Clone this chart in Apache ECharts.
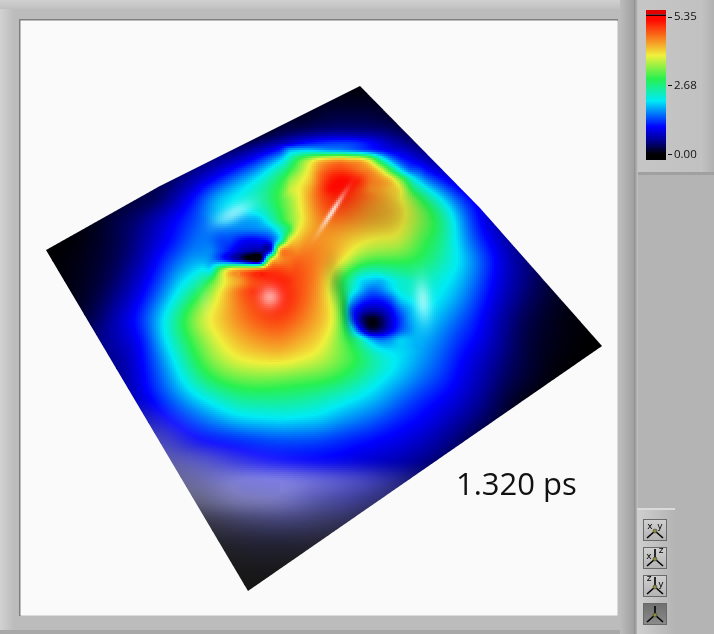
<!DOCTYPE html>
<html><head><meta charset="utf-8">
<style>html,body{margin:0;padding:0;background:#bdbdbd}#c{width:714px;height:634px}</style>
<script src="https://cdn.jsdelivr.net/npm/echarts@6/dist/echarts.min.js"></script>
</head><body><div id="c"></div>
<script>
// ---------- colour-scale ticks ----------
const scaleTicks = [0, 2.68, 5.35];
const timeLabel = '1.320 ps';
// ---------- surface height read on a 20 px lattice (columns x = 40..620, rows y = 80..600) ----------
const latticeX = [40,60,80,100,120,140,160,180,200,220,240,260,280,300,320,340,360,380,400,420,440,460,480,500,520,540,560,580,600,620];
const latticeY = [80,100,120,140,160,180,200,220,240,260,280,300,320,340,360,380,400,420,440,460,480,500,520,540,560,580,600];
const y080=[0,0,0,0,0,0,0,0,0,0,0,0,0,0,0,0,0,0,0,0,0,0,0,0,0,0,0,0,0,0];
const y100=[0,0,0,0,0,0,0,0,0,0,0,0,0,0,.1,.1,.1,.1,0,0,0,0,0,0,0,0,0,0,0,0];
const y120=[0,0,0,0,0,0,0,0,0,0,0,0,.2,.15,.25,.3,.3,.25,.15,.1,0,0,0,0,0,0,0,0,0,0];
const y140=[0,0,0,0,0,0,0,0,0,.1,.15,.25,.4,.65,.8,.85,.8,.7,.5,.3,.15,.05,0,0,0,0,0,0,0,0];
const y160=[0,0,0,0,0,0,.1,.2,.35,.55,.8,1.3,2,3,3.8,4.2,4,2.3,1.3,.8,.5,.3,.1,0,0,0,0,0,0,0];
const y180=[0,0,0,0,.1,.2,.3,.45,.8,1.2,1.75,2.2,2.9,3.5,4.7,5.2,5,4.4,3.3,1.8,1.2,.7,.4,.1,0,0,0,0,0,0];
const y200=[0,0,0,.05,.15,.25,.35,.8,1.35,2,2.2,2.5,3.1,3.9,4.8,5.1,4.7,4.3,4,3.1,2.2,1.4,.9,.5,.2,0,0,0,0,0];
const y220=[0,0,.03,.12,.3,.45,.8,1.15,1.45,1.9,1.8,1.9,2.8,3.7,4.5,4.6,4.4,4.2,4,3.4,2.8,1.8,1.05,.6,.3,.1,0,0,0,0];
const y240=[0,0,.05,.15,.3,.55,.9,1.25,1.6,1.45,1,1.1,2.8,4.3,4.4,4.2,3.95,3.8,3.75,3.1,2.7,1.9,1.25,.8,.4,.15,0,0,0,0];
const y260=[0,.03,.08,.18,.35,.65,1.15,1.55,1.8,1.3,.25,.3,4.4,4.7,4.5,4.1,3.3,3.1,3.05,2.9,2.5,2.05,1.5,.95,.55,.3,.1,0,0,0];
const y280=[0,.03,.1,.22,.45,.85,1.35,1.95,2.4,3.6,4.4,5,5.1,4.8,4.4,3,1.9,1.9,2.3,2.4,2.2,1.9,1.4,.9,.55,.3,.15,.05,0,0];
const y300=[0,.05,.12,.3,.6,1.05,1.65,2.35,3.2,3.95,4.6,5,5.2,4.8,4.3,3.3,1.5,1.1,1.85,2.2,2.05,1.7,1.25,.8,.45,.25,.1,.02,0,0];
const y320=[0,.1,.2,.4,.8,1.25,1.95,2.8,3.65,4.1,4.5,4.8,4.9,4.6,4.2,3.5,.5,.1,1.3,2,1.8,1.45,1.1,.65,.35,.18,.08,.02,0,0];
const y340=[0,.1,.3,.5,.75,1.05,1.85,2.6,3.3,3.85,4.2,4.4,4.5,4.25,4,3.3,2.5,1.6,1.95,1.85,1.6,1.25,1,.6,.3,.15,.07,.02,0,0];
const y360=[0,.1,.3,.45,.6,1,1.6,2.3,3.05,3.55,3.85,3.95,4,3.85,3.65,3.3,2.9,2.4,2.05,1.75,1.45,1.1,.8,.5,.28,.12,.04,0,0,0];
const y380=[0,.1,.3,.4,.55,.95,1.45,2,2.6,3,3.2,3.25,3.2,3.1,3.05,2.85,2.5,2.1,1.85,1.55,1.3,1,.7,.4,.22,.1,0,0,0,0];
const y400=[0,0,.2,.3,.5,.85,1.25,1.65,2,2.3,2.55,2.6,2.6,2.55,2.4,2.2,2,1.8,1.5,1.25,1.05,.85,.55,.3,.1,0,0,0,0,0];
const y420=[0,0,0,.2,.35,.55,.9,1.2,1.5,1.75,1.95,2,2.05,2,1.95,1.75,1.6,1.4,1.2,1.05,.85,.6,.4,.2,0,0,0,0,0,0];
const y440=[0,0,0,0,.2,.4,.6,.85,1.05,1.15,1.25,1.35,1.4,1.4,1.35,1.25,1.15,1.05,.95,.8,.6,.4,.2,0,0,0,0,0,0,0];
const y460=[0,0,0,0,0,.2,.4,.5,.65,.8,.9,1,1.05,1.05,1.05,1,.9,.8,.7,.55,.4,.2,0,0,0,0,0,0,0,0];
const y480=[0,0,0,0,0,0,.2,.3,.4,.55,.7,.8,.8,.8,.75,.7,.65,.55,.45,.3,.15,0,0,0,0,0,0,0,0,0];
const y500=[0,0,0,0,0,0,0,.12,.2,.3,.4,.45,.5,.5,.45,.45,.4,.3,.2,.1,0,0,0,0,0,0,0,0,0,0];
const y520=[0,0,0,0,0,0,0,0,.08,.12,.18,.22,.25,.25,.22,.2,.15,.1,.05,0,0,0,0,0,0,0,0,0,0,0];
const y540=[0,0,0,0,0,0,0,0,0,.05,.07,.1,.1,.1,.08,.05,.02,0,0,0,0,0,0,0,0,0,0,0,0,0];
const y560=[0,0,0,0,0,0,0,0,0,0,.02,.03,.03,.02,0,0,0,0,0,0,0,0,0,0,0,0,0,0,0,0];
const y580=[0,0,0,0,0,0,0,0,0,0,0,0,0,0,0,0,0,0,0,0,0,0,0,0,0,0,0,0,0,0];
const y600=y580;
const heights=[y080,y100,y120,y140,y160,y180,y200,y220,y240,y260,y280,y300,y320,y340,y360,y380,y400,y420,y440,y460,y480,y500,y520,y540,y560,y580,y600];
// ---------- finer readings (10 px) round the two wells and the upper ridge ----------
const wellAX=[200,210,220,230,240,250,260,270,280,290,300], wellAY=[210,220,230,240,250,260,270,280,290];
const wellA210=[1.55,1.8,2,2.05,2.05,2.1,2.2,2.6,2.95,3.4,3.8];
const wellA220=[1.45,1.7,1.9,1.9,1.8,1.8,1.9,2.3,2.8,3.3,3.7];
const wellA230=[1.5,1.6,1.6,1.6,1.6,1.6,1.65,1.8,2.3,3,3.9];
const wellA240=[1.6,1.55,1.4,1.35,1.15,1.05,1.1,1.3,2.2,3.8,4.3];
const wellA250=[1.75,1.65,1.4,1.15,.85,.7,.65,.85,4.1,4.5,4.5];
const wellA260=[1.85,1.7,1.4,1,.6,.1,.1,3.6,4.4,4.6,4.7];
const wellA270=[2.1,2.1,3.2,4,4.3,4.5,4.7,4.9,4.9,4.8,4.8];
const wellA280=[2.4,2.9,3.6,4.1,4.4,4.8,5,5.1,5.1,5,4.8];
const wellA290=[2.8,3.4,3.8,4.2,4.5,4.9,5,5.2,5.15,4.95,4.8];
const wellBX=[340,350,360,370,380,390,400,410,420], wellBY=[270,280,290,300,310,320,330,340,350];
const wellB270=[3.3,3,2.6,2.4,2.4,2.6,2.7,2.8,2.7];
const wellB280=[3,2.6,2.1,1.95,1.9,2.1,2.3,2.35,2.4];
const wellB290=[3.1,2.4,1.9,1.55,1.6,1.9,2.2,2.3,2.3];
const wellB300=[3.3,2,1.4,1.15,1.15,1.4,1.9,2.1,2.2];
const wellB310=[3.4,1.6,.9,.65,.7,1,1.5,1.85,2.1];
const wellB320=[3.5,1.8,.6,.08,.25,.8,1.3,1.75,2];
const wellB330=[3.4,2.4,1.2,.35,.45,.9,1.4,1.7,1.9];
const wellB340=[3.3,2.9,2.5,1.9,1.6,1.7,1.95,1.9,1.8];
const wellB350=[3.3,3.1,2.7,2.3,2,1.9,2,1.85,1.7];
const ridgeX=[280,290,300,310,320,330,340,350,360,370,380,390,400,410,420], ridgeY=[140,150,160,170,180,190,200];
const ridge140=[.4,.5,.65,.72,.8,.83,.85,.83,.8,.75,.7,.6,.5,.4,.3];
const ridge150=[1.6,1.8,1.9,1.9,1.8,1.7,1.65,1.55,1.4,1.25,1.1,.95,.85,.7,.55];
const ridge160=[2,2.5,3.1,3.6,4,4.2,4.3,4.2,4.1,3.6,2.6,1.8,1.3,1.05,.8];
const ridge170=[2.4,2.95,3.45,3.95,4.5,4.8,4.9,4.8,4.6,4.4,3.9,3,2.1,1.5,1.2];
const ridge180=[2.9,3.4,3.75,4.1,4.7,5.1,5.25,5.2,5,4.6,4.4,4.1,3.4,2.5,1.8];
const ridge190=[3.2,3.65,3.9,4.3,4.8,5.2,5.2,5.1,4.85,4.5,4.35,4.15,3.9,3.1,2.3];
const ridge200=[3.3,3.7,3.95,4.4,4.8,5,5.1,4.9,4.7,4.5,4.3,4.15,4,3.5,3];
// ---------- sheen (white mixed in) read in the lower front of the surface ----------
const sheenX=[120,160,200,240,280,320,360,400,440];
const sheenY=[380,400,420,440,460,480,500,520,540,560,580,600];
const sheen380=[0,0,0,0,0,0,0,0,0];
const sheen400=[.03,0,0,0,0,0,0,0,0];
const sheen420=[.15,.12,.03,0,0,0,0,0,0];
const sheen440=[.25,.27,.1,.02,0,0,0,0,0];
const sheen460=[.35,.36,.33,.22,.12,.05,.02,0,0];
const sheen480=[.4,.4,.42,.48,.48,.38,.27,.14,.05];
const sheen500=[.38,.39,.39,.46,.45,.33,.23,.15,.05];
const sheen520=[.25,.25,.23,.26,.27,.23,.17,.1,.05];
const sheen540=[.15,.15,.15,.15,.15,.15,.12,.08,0];
const sheen560=[.11,.11,.11,.11,.11,.11,.11,.11,.11];
const sheen580=[.09,.09,.09,.09,.09,.09,.09,.09,.09];
const sheen600=[.08,.08,.08,.08,.08,.08,.08,.08,.08];
const sheenRows=[sheen380,sheen400,sheen420,sheen440,sheen460,sheen480,sheen500,sheen520,sheen540,sheen560,sheen580,sheen600];
// glints: x, y, long radius, short radius, angle (deg), strength
const glints=[[270,297,11,11,0,.6],[332,212,22,2.6,-57,.8],[234,213,20,8,-28,.5],[423,301,20,8,85,.55],[205,300,18,6,80,.1]];
// shaded folds: x, y, long radius, short radius, angle (deg), strength
const shades=[[347,315,20,6,80,.28],[335,280,20,9,80,.2],[385,215,42,26,0,.15]];
// surface outline
const outlineX=[46,160,250,360,480,602,248];
const outlineY=[250,186,141,86,208,346,591];
// colour ramp
const rampAt=[0,.1,.2,.39,.55,.72,.98,1];
const rampRGB=[[0,0,0],[0,0,145],[0,0,255],[0,235,245],[40,240,80],[240,240,60],[255,8,0],[255,8,0]];

const maxH=scaleTicks[2];
function ramp(v){const f=Math.min(1,Math.max(0,v/maxH));let i=0;while(i<rampAt.length-2&&f>rampAt[i+1])i++;
  const t=(f-rampAt[i])/(rampAt[i+1]-rampAt[i]);return rampRGB[i].map((c,k)=>c+(rampRGB[i+1][k]-c)*t);}
function cr(a,b,c,d,t){return b+.5*t*(c-a+t*(2*a-5*b+4*c-d+t*(3*(b-c)+d-a)));}
function cub(xs,ys,rows,x,y){const sx=xs[1]-xs[0],sy=ys[1]-ys[0],nx=xs.length,ny=ys.length;
  let i=Math.max(0,Math.min(nx-2,Math.floor((x-xs[0])/sx))),j=Math.max(0,Math.min(ny-2,Math.floor((y-ys[0])/sy)));
  const a=Math.max(0,Math.min(1,(x-xs[i])/sx)),b=Math.max(0,Math.min(1,(y-ys[j])/sy));
  const col=[];for(let k=-1;k<=2;k++){const r=rows[Math.max(0,Math.min(ny-1,j+k))];
    col.push(cr(r[Math.max(0,i-1)],r[i],r[i+1],r[Math.min(nx-1,i+2)],a));}
  const v=cr(col[0],col[1],col[2],col[3],b);
  const q=[rows[j][i],rows[j][i+1],rows[j+1][i],rows[j+1][i+1]];
  const lo=Math.min(...q),hi=Math.max(...q),m=(hi-lo)*.12;
  return Math.max(lo-m,Math.min(hi+m,v));}
const patches=[[wellAX,wellAY,[wellA210,wellA220,wellA230,wellA240,wellA250,wellA260,wellA270,wellA280,wellA290]],
 [wellBX,wellBY,[wellB270,wellB280,wellB290,wellB300,wellB310,wellB320,wellB330,wellB340,wellB350]],
 [ridgeX,ridgeY,[ridge140,ridge150,ridge160,ridge170,ridge180,ridge190,ridge200]]];
const soft=9;
function smooth(x,y){return (cub(latticeX,latticeY,heights,x,y)*2
   +cub(latticeX,latticeY,heights,x-soft,y)+cub(latticeX,latticeY,heights,x+soft,y)
   +cub(latticeX,latticeY,heights,x,y-soft)+cub(latticeX,latticeY,heights,x,y+soft)
   +cub(latticeX,latticeY,heights,x-soft,y-soft)+cub(latticeX,latticeY,heights,x+soft,y-soft)
   +cub(latticeX,latticeY,heights,x-soft,y+soft)+cub(latticeX,latticeY,heights,x+soft,y+soft))/10;}
function height(x,y){const base=smooth(x,y);
  for(const p of patches){const xs=p[0],ys=p[1],x0=xs[0],x1=xs[xs.length-1],y0=ys[0],y1=ys[ys.length-1];
   if(x>=x0&&x<=x1&&y>=y0&&y<=y1){const w=Math.min(1,(x-x0)/10,(x1-x)/10,(y-y0)/10,(y1-y)/10);
     return base*(1-w)+cub(xs,ys,p[2],x,y)*w;}}
  return Math.max(0,base);}
function blob(s,x,y){const c=Math.cos(s[4]*Math.PI/180),n=Math.sin(s[4]*Math.PI/180),dx=x-s[0],dy=y-s[1];
  const u=(dx*c+dy*n)/s[2],w=(-dx*n+dy*c)/s[3];return s[5]*Math.exp(-(u*u+w*w));}
function shineAt(x,y){let g=0;if(y>=380&&x>=120)g=Math.max(0,cub(sheenX,sheenY,sheenRows,x,y));
  for(const s of glints)g=1-(1-g)*(1-blob(s,x,y));
  return g;}
function colorAt(x,y){const c=ramp(height(x,y)),g=shineAt(x,y);let d=1;
  for(const s of shades)d*=1-blob(s,x,y);
  return 'rgb('+c.map(k=>Math.round(k*d*(1-g)+255*g)).join(',')+')';}
const outline=outlineX.map((x,i)=>[x,outlineY[i]]);
function clipPoly(poly){let out=poly;const n=outline.length;
  for(let i=0;i<n&&out.length;i++){const A=outline[i],B=outline[(i+1)%n];
    const side=p=>(B[0]-A[0])*(p[1]-A[1])-(B[1]-A[1])*(p[0]-A[0]);const inp=out;out=[];
    for(let k=0;k<inp.length;k++){const P=inp[k],Q=inp[(k+1)%inp.length],sp=side(P),sq=side(Q);
      if(sp>=0)out.push(P);
      if((sp>=0)!==(sq>=0)){const t=sp/(sp-sq);out.push([P[0]+(Q[0]-P[0])*t,P[1]+(Q[1]-P[1])*t]);}}}
  return out;}
const cells=[];latticeY.slice(0,-1).forEach(y=>latticeX.slice(0,-1).forEach(x=>cells.push([x,y])));
const sub=2,step=20;
function renderCell(params,api){const x0=api.value(0),y0=api.value(1),kids=[];
  for(let y=y0;y<y0+step;y+=sub)for(let x=x0;x<x0+step;x+=sub){
    const poly=[[x,y],[x+sub,y],[x+sub,y+sub],[x,y+sub]],cp=clipPoly(poly);
    if(cp.length<3)continue;
    const fill=colorAt(x+sub/2,y+sub/2);
    const pts=cp.map(p=>api.coord(p));
    if(cp.length===4&&cp.every((p,i)=>p[0]===poly[i][0]&&p[1]===poly[i][1]))
      kids.push({type:'rect',shape:{x:pts[0][0],y:pts[0][1],width:sub,height:sub},style:{fill:fill},silent:true});
    else kids.push({type:'polygon',shape:{points:pts},style:{fill:fill},silent:true});
  }
  return {type:'group',children:kids};}
function renderBar(params,api){const a=api.coord([0,maxH]),b=api.coord([1,0]);
  const cs=rampAt.map((o,i)=>({offset:1-o,color:'rgb('+rampRGB[i].join(',')+')'})).reverse();
  return {type:'rect',shape:{x:a[0],y:a[1],width:b[0]-a[0],height:b[1]-a[1]},
    style:{fill:new echarts.graphic.LinearGradient(0,0,0,1,cs)}};}
const F='"Open Sans",sans-serif';
function rect(x,y,w,h,fill,z){return {type:'rect',silent:true,z:z||0,shape:{x,y,width:w,height:h},style:{fill}};}
function hgrad(a,b){return new echarts.graphic.LinearGradient(0,0,1,0,[{offset:0,color:a},{offset:1,color:b}]);}
function vgrad(a,b){return new echarts.graphic.LinearGradient(0,0,0,1,[{offset:0,color:a},{offset:1,color:b}]);}
function line(x1,y1,x2,y2,w,c,z){return {type:'line',silent:true,z:z||6,shape:{x1,y1,x2,y2},style:{stroke:c||'#000',lineWidth:w||1}};}
function ic(t,x,y){return {type:'text',silent:true,z:6,x,y,style:{text:t,font:'9px "DejaVu Sans"',fill:'#000',textAlign:'center',textVerticalAlign:'middle'}};}
function btn(y,h,a,b){return [rect(643,y,24,h,'#6a6a6a',4),rect(644,y+1,22,h-2,vgrad(a,b),5)];}
function yoke(cx,cy){return [line(cx,cy,cx-8,cy+7,1.6),line(cx,cy,cx+8,cy+7,1.6),{type:'circle',silent:true,z:7,shape:{cx,cy,r:2},style:{fill:'#8f8f3a',stroke:'#333',lineWidth:.5}}];}
const graphics=[
  rect(0,0,714,634,'#bcbcbc',0),
  rect(0,0,14,634,hgrad('#d2d2d2','#bcbcbc'),1),
  rect(0,0,634,9,vgrad('#d0d0d0','#c0c0c0'),1),
  rect(0,630,634,4,'#a8a8a8',1),
  rect(620,0,14,634,hgrad('#bcbcbc','#a0a0a0'),1),
  rect(634,0,4,634,hgrad('#8c8c8c','#c4c4c4'),1),
  rect(638,0,76,634,'#b4b4b4',1),
  rect(638,0,76,175,hgrad('#c6c6c6','#c0c0c0'),2),
  rect(638,172,76,3,'#a0a0a0',2),
  rect(700,0,14,172,hgrad('#c4c4c4','#b2b2b2'),2),
  rect(637,510,38,124,hgrad('#cfcfcf','#b4b4b4'),2),
  rect(637,508,38,2,'#dadada',2),
  rect(19,19,599,2,'#7f7f7f',1),
  rect(19,19,2,597,'#7f7f7f',1),
  rect(20.5,20.5,597,595,'#fafafa',1),
  rect(646,10,20,4.5,'#e00000',3),
  rect(646,14.5,20,1.5,'#200000',3),
  rect(646,16,20,1,'#ff0800',3),
  rect(646,154,20,6,'#000',3),
  ...btn(519,22,'#d0d0d0','#b4b4b4'),...btn(547,22,'#d0d0d0','#b4b4b4'),...btn(575,22,'#d0d0d0','#b4b4b4'),...btn(603,22,'#707070','#8a8a8a'),
  ...yoke(655,531),ic('x',650,527),ic('y',660,527),
  ...yoke(655,559),line(655,559,655,549,1.6),ic('z',661,551),ic('x',649,557),
  ...yoke(655,587),line(655,587,655,577,1.6),ic('z',649,579),ic('y',661,585),
  ...yoke(655,615),line(655,615,655,606,1.6),
  {type:'text',silent:true,z:20,x:456,y:486,style:{text:timeLabel,font:'31px '+F,fill:'#111',textAlign:'left',textVerticalAlign:'middle'}}
];
const chart=echarts.init(document.getElementById('c'),null,{renderer:'canvas'});
chart.setOption({
  animation:false,
  graphic:{elements:graphics},
  grid:[{left:0,top:0,width:714,height:634},{left:646,top:17,width:20,height:137.5}],
  xAxis:[{type:'value',min:0,max:714,show:false,gridIndex:0},{type:'value',min:0,max:1,show:false,gridIndex:1}],
  yAxis:[{type:'value',min:0,max:634,inverse:true,show:false,gridIndex:0},
    {type:'value',gridIndex:1,min:0,max:maxH,position:'right',offset:2,z:30,splitLine:{show:false},axisLine:{show:false,onZero:false},
     axisTick:{show:true,length:4,customValues:scaleTicks,lineStyle:{color:'#111'}},
     axisLabel:{show:true,margin:6,customValues:scaleTicks,formatter:v=>v.toFixed(2),color:'#111',fontSize:11.5,fontFamily:F}}],
  series:[
    {type:'custom',xAxisIndex:0,yAxisIndex:0,coordinateSystem:'cartesian2d',data:cells,renderItem:renderCell,clip:false,silent:true,z:3,progressive:0,encode:{x:0,y:1}},
    {type:'custom',xAxisIndex:1,yAxisIndex:1,coordinateSystem:'cartesian2d',data:[[0,0]],renderItem:renderBar,clip:false,silent:true,z:3}
  ]
});
</script></body></html>
